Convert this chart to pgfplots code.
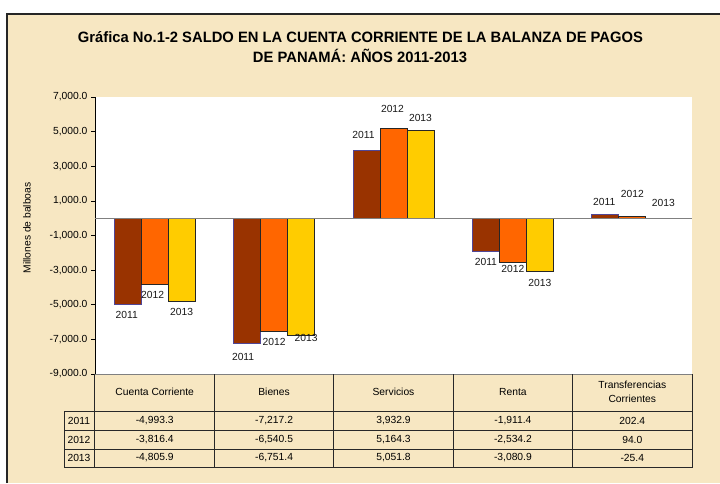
\documentclass[border=0pt]{standalone}
\usepackage{fontspec}
\setmainfont{Liberation Sans}
\usepackage{pgfplots}
\pgfplotsset{compat=1.18}
\definecolor{bgc}{RGB}{247,231,194}
\definecolor{c11}{RGB}{153,51,0}
\definecolor{c12}{RGB}{255,102,0}
\definecolor{c13}{RGB}{255,204,0}
\definecolor{b11}{RGB}{80,70,150}
\definecolor{tl}{RGB}{40,40,40}
\newcommand{\tf}{\fontsize{10.3}{12}\selectfont}
\begin{document}
\begin{tikzpicture}
\begin{scope}[x=1pt,y=-1pt]
\useasboundingbox (0,0) rectangle (720,483);
\fill[white] (0,0) rectangle (720,483);
\fill[bgc] (7,14) rectangle (720,483);
\draw[line width=1.2pt, black!85] (7,483) -- (7,14) -- (720,14);
\node[font=\fontsize{15}{17}\selectfont\bfseries] at (360.5,37) {\scalebox{0.985}[1]{Gráfica No.1-2 SALDO EN LA CUENTA CORRIENTE DE LA BALANZA DE PAGOS}};
\node[font=\fontsize{15}{17}\selectfont\bfseries] at (360,56) {\scalebox{0.985}[1]{DE PANAMÁ: AÑOS 2011-2013}};
\node[rotate=90, font=\tf] at (27,228) {Millones de balboas};
\end{scope}
\begin{axis}[
  at={(95pt,-374pt)}, anchor=south west,
  scale only axis, width=597pt, height=277pt,
  xmin=-0.5, xmax=4.5, ymin=-9000, ymax=7000,
  ytick={-9000,-7000,...,7000}, xtick=\empty,
  axis x line*=bottom, axis y line*=left,
  axis line style={-},
  x axis line style={gray, line width=0.8pt},
  y axis line style={black, line width=0.8pt},
  tick align=outside, major tick length=4pt,
  ytick style={black, line width=0.6pt},
  yticklabel style={font=\tf},
  scaled y ticks=false,
  /pgf/number format/fixed, /pgf/number format/fixed zerofill,
  /pgf/number format/precision=1, /pgf/number format/1000 sep={,},
  /pgf/number format/assume math mode=true,
  axis background/.style={fill=white},
  ybar=0pt, bar width=27pt, clip=false,
  visualization depends on={value \thisrow{dx} \as \ldx},
  visualization depends on={value \thisrow{dy} \as \ldy},
  every node near coord/.append style={anchor=center, xshift=\ldx pt, yshift=\ldy pt, font=\tf, text=black!90},
]
\addplot[fill=c11, draw=b11, line width=0.8pt, nodes near coords={2011}] table {
x y dx dy
0 -4993.3 -1 -10
1 -7217.2 -4 -14
2 3932.9 -3 15.6
3 -1911.4 0 -11
4 202.4 -1 12.5
};
\addplot[fill=c12, draw=black!85, line width=0.8pt, nodes near coords={2012}] table {
x y dx dy
0 -3816.4 -2 -11
1 -6540.5 0 -11
2 5164.3 -1 19.6
3 -2534.2 0 -7
4 94.0 0 23
};
\addplot[fill=c13, draw=black!85, line width=0.8pt, nodes near coords={2013}] table {
x y dx dy
0 -4805.9 0 -11
1 -6751.4 5 -3
2 5051.8 0 13
3 -3080.9 0 -11
4 -25.4 4 16
};
\draw[gray, line width=0.8pt] (axis cs:-0.5,0) -- (axis cs:4.5,0);
\end{axis}
\begin{scope}[x=1pt,y=-1pt]
\draw[tl, line width=0.8pt] (64,411) -- (692,411);
\draw[tl, line width=0.8pt] (64,430) -- (692,430);
\draw[tl, line width=0.8pt] (64,449) -- (692,449);
\draw[tl, line width=0.8pt] (64,467.5) -- (692,467.5);
\draw[tl, line width=0.8pt] (64,411) -- (64,467.5);
\draw[tl, line width=0.8pt] (94.6,374) -- (94.6,467.5);
\foreach \xx in {214.4,333.8,453.2,572.6,692} {\draw[tl, line width=0.8pt] (\xx,374) -- (\xx,467.5);}
\begin{scope}[every node/.style={font=\tf}]
\node at (154.7,392) {Cuenta Corriente};
\node at (274.1,392) {Bienes};
\node at (393.5,392) {Servicios};
\node at (512.9,392) {Renta};
\node[align=center, font=\fontsize{10.3}{14.5}\selectfont] at (632.3,392) {Transferencias\\Corrientes};
\node at (79,420.5) {2011};
\node at (79,439.5) {2012};
\node at (79,458) {2013};
\node at (154.7,420.5) {-4,993.3};
\node at (274.1,420.5) {-7,217.2};
\node at (393.5,420.5) {3,932.9};
\node at (512.9,420.5) {-1,911.4};
\node at (632.3,420.5) {202.4};
\node at (154.7,439.5) {-3,816.4};
\node at (274.1,439.5) {-6,540.5};
\node at (393.5,439.5) {5,164.3};
\node at (512.9,439.5) {-2,534.2};
\node at (632.3,439.5) {94.0};
\node at (154.7,458) {-4,805.9};
\node at (274.1,458) {-6,751.4};
\node at (393.5,458) {5,051.8};
\node at (512.9,458) {-3,080.9};
\node at (632.3,458) {-25.4};
\end{scope}
\end{scope}
\end{tikzpicture}
\end{document}
